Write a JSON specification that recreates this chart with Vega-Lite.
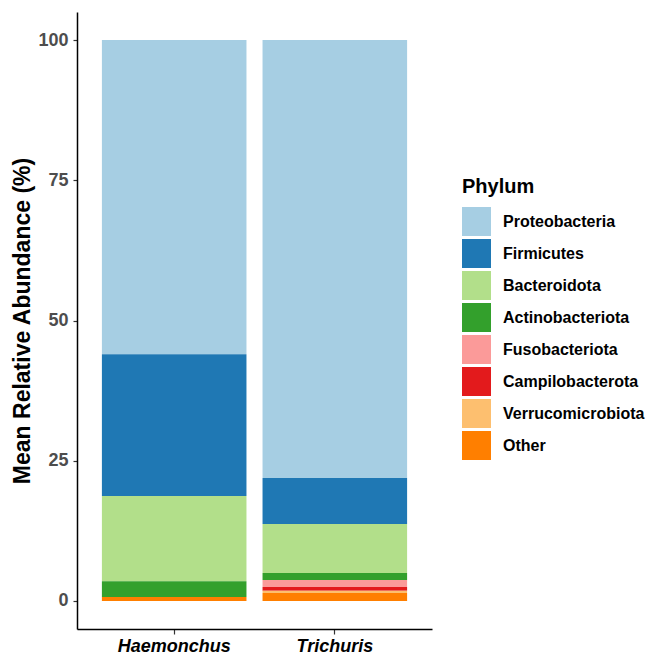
{
  "$schema": "https://vega.github.io/schema/vega-lite/v6.json",
  "autosize": {"type": "none"},
  "width": 355,
  "height": 617,
  "padding": {"left": 77, "top": 12, "right": 219, "bottom": 25},
  "background": "white",
  "config": {"view": {"stroke": null}, "font": "Liberation Sans"},
  "data": {"values": [
    {"host": "Haemonchus", "phylum": "Proteobacteria", "abundance": 56.0},
    {"host": "Haemonchus", "phylum": "Firmicutes", "abundance": 25.3},
    {"host": "Haemonchus", "phylum": "Bacteroidota", "abundance": 15.2},
    {"host": "Haemonchus", "phylum": "Actinobacteriota", "abundance": 2.8},
    {"host": "Haemonchus", "phylum": "Fusobacteriota", "abundance": 0.0},
    {"host": "Haemonchus", "phylum": "Campilobacterota", "abundance": 0.0},
    {"host": "Haemonchus", "phylum": "Verrucomicrobiota", "abundance": 0.0},
    {"host": "Haemonchus", "phylum": "Other", "abundance": 0.7},
    {"host": "Trichuris", "phylum": "Proteobacteria", "abundance": 78.1},
    {"host": "Trichuris", "phylum": "Firmicutes", "abundance": 8.2},
    {"host": "Trichuris", "phylum": "Bacteroidota", "abundance": 8.7},
    {"host": "Trichuris", "phylum": "Actinobacteriota", "abundance": 1.25},
    {"host": "Trichuris", "phylum": "Fusobacteriota", "abundance": 1.25},
    {"host": "Trichuris", "phylum": "Campilobacterota", "abundance": 0.7},
    {"host": "Trichuris", "phylum": "Verrucomicrobiota", "abundance": 0.4},
    {"host": "Trichuris", "phylum": "Other", "abundance": 1.4}
  ]},
  "transform": [
    {"calculate": "indexof(['Proteobacteria','Firmicutes','Bacteroidota','Actinobacteriota','Fusobacteriota','Campilobacterota','Verrucomicrobiota','Other'], datum.phylum)", "as": "rank"}
  ],
  "mark": {"type": "bar"},
  "encoding": {
    "x": {
      "field": "host", "type": "nominal",
      "scale": {"paddingInner": 0.1, "paddingOuter": 0.155},
      "axis": {
        "title": null, "labelAngle": 0, "labelFontSize": 18, "labelFontWeight": "bold",
        "labelFontStyle": "italic", "labelColor": "black", "labelPadding": 3,
        "domainColor": "black", "domainWidth": 1.5, "tickColor": "#333333", "tickSize": 5, "tickWidth": 1.2
      }
    },
    "y": {
      "field": "abundance", "type": "quantitative", "stack": "zero",
      "scale": {"domain": [-5, 105], "nice": false, "zero": false},
      "axis": {
        "title": "Mean Relative Abundance (%)", "titleFontSize": 23, "titleFontWeight": "bold",
        "titleColor": "black", "titlePadding": 3,
        "values": [0, 25, 50, 75, 100], "grid": false,
        "labelFontSize": 18, "labelFontWeight": "bold", "labelColor": "#4d4d4d", "labelPadding": 5,
        "domainColor": "black", "domainWidth": 1.5, "tickColor": "#333333", "tickSize": 4, "tickWidth": 1.2
      }
    },
    "color": {
      "field": "phylum", "type": "nominal",
      "scale": {
        "domain": ["Proteobacteria", "Firmicutes", "Bacteroidota", "Actinobacteriota", "Fusobacteriota", "Campilobacterota", "Verrucomicrobiota", "Other"],
        "range": ["#A6CEE3", "#1F78B4", "#B2DF8A", "#33A02C", "#FB9A99", "#E31A1C", "#FDBF6F", "#FF7F00"]
      },
      "legend": {
        "title": "Phylum", "titleFontSize": 20, "titleFontWeight": "bold", "titleColor": "black", "titlePadding": 10,
        "orient": "none", "legendX": 385, "legendY": 165,
        "symbolType": "square", "symbolSize": 841, "symbolStrokeWidth": 0, "symbolOpacity": 1,
        "labelFontSize": 16, "labelFontWeight": "bold", "labelColor": "black", "labelOffset": 12,
        "rowPadding": 3
      }
    },
    "order": {"field": "rank", "type": "quantitative", "sort": "descending"}
  }
}
